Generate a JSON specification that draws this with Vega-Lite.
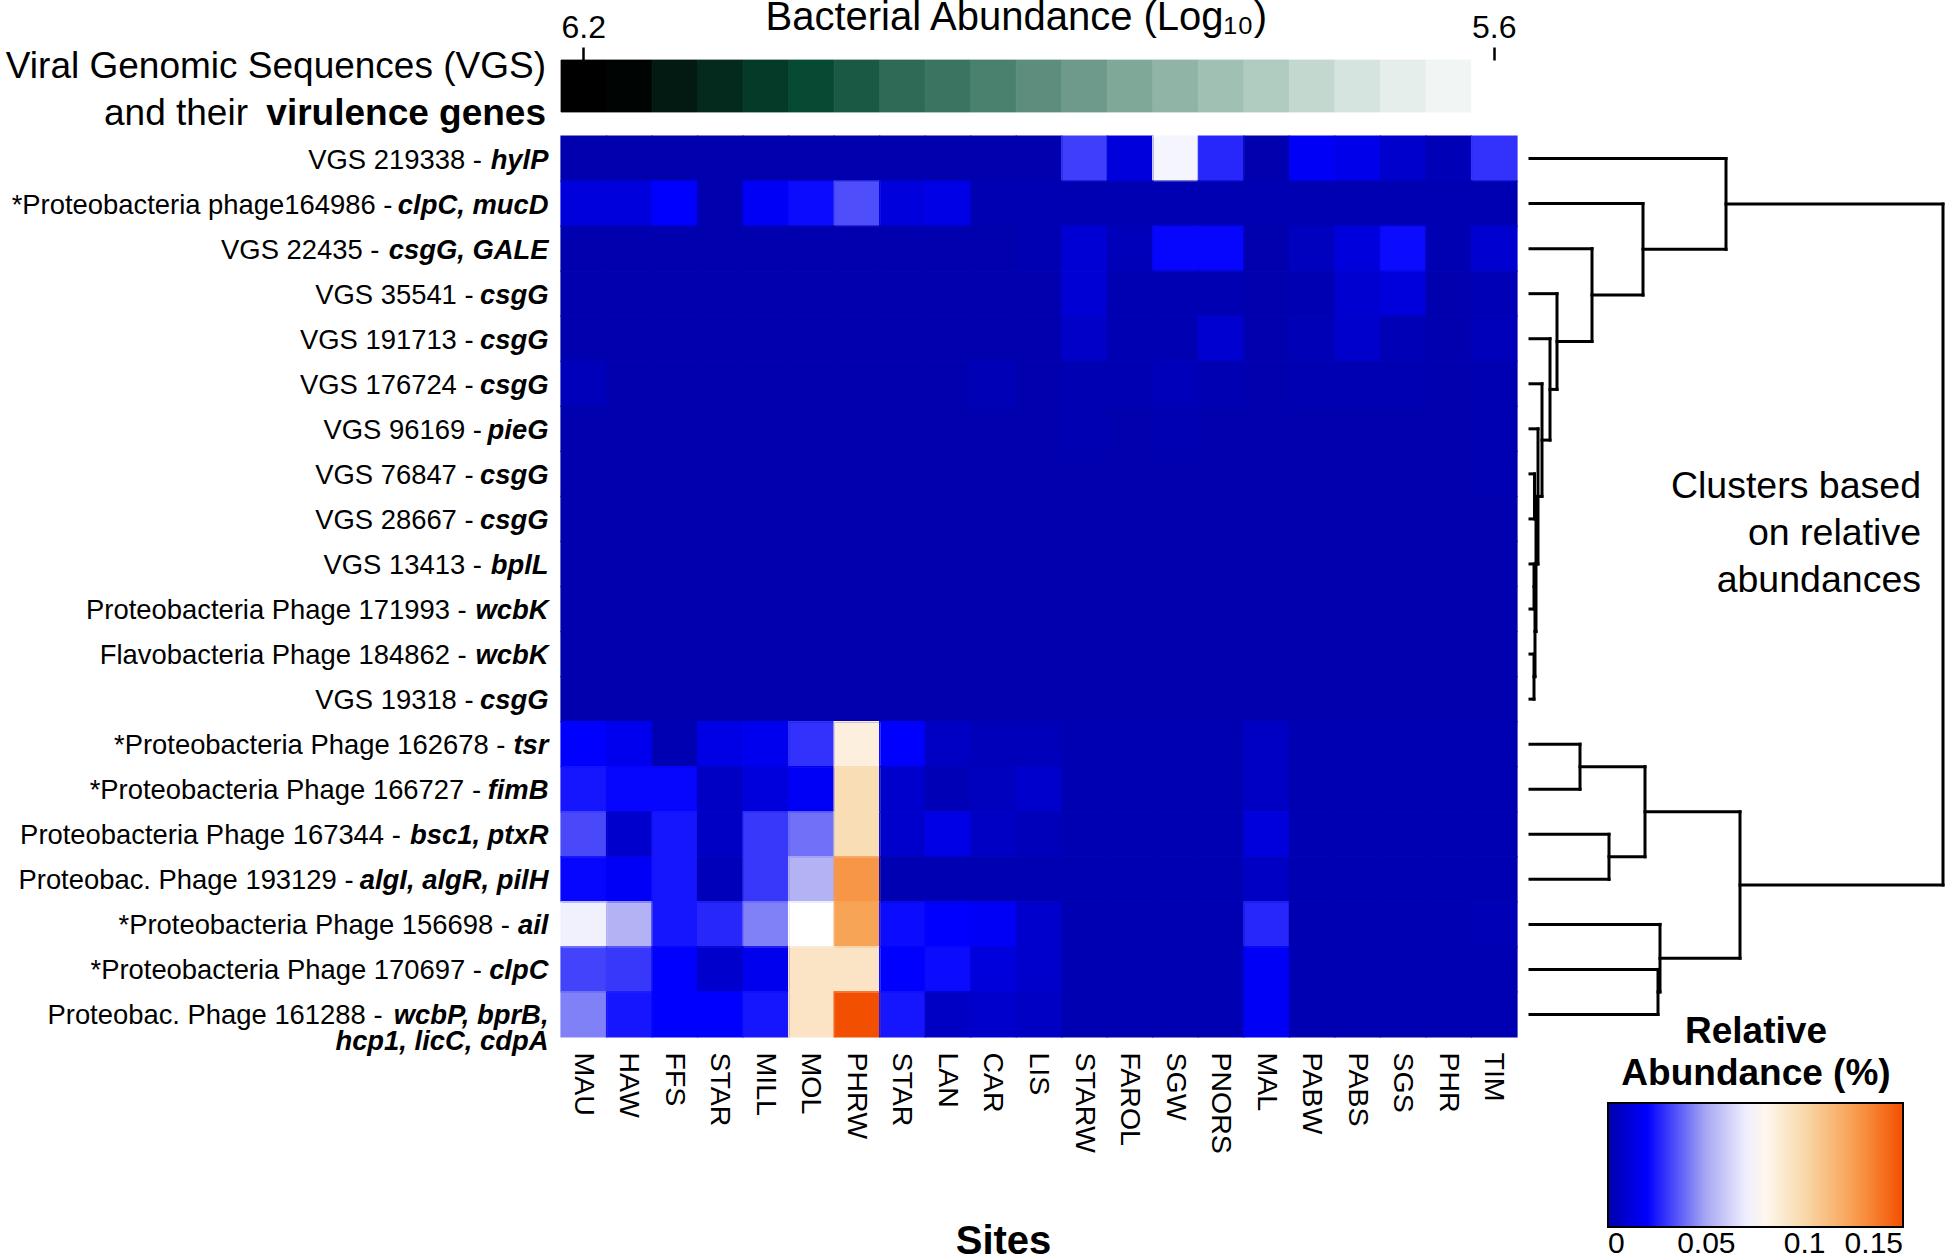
{
  "$schema": "https://vega.github.io/schema/vega-lite/v6.json",
  "width": 956,
  "height": 901,
  "autosize": {"type": "none"},
  "padding": {"left": 561, "top": 136, "right": 429, "bottom": 221},
  "background": "white",
  "config": {
    "view": {"stroke": null},
    "font": "Liberation Sans",
    "text": {"font": "Liberation Sans", "color": "black"},
    "axis": {"labelFont": "Liberation Sans", "titleFont": "Liberation Sans"},
    "legend": {"labelFont": "Liberation Sans", "titleFont": "Liberation Sans"}
  },
  "datasets": {
    "heat": [
      {"row": 1, "MAU": 0.001, "HAW": 0.001, "FFS": 0.001, "STAR": 0.001, "MILL": 0.001, "MOL": 0.001, "PHRW": 0.001, "STAR2": 0.001, "LAN": 0.001, "CAR": 0.001, "LIS": 0.001, "STARW": 0.031, "FAROL": 0.012, "SGW": 0.072, "PNORS": 0.027, "MAL": 0.001, "PABW": 0.018, "PABS": 0.015, "SGS": 0.008, "PHR": 0.003, "TIM": 0.029},
      {"row": 2, "MAU": 0.012, "HAW": 0.012, "FFS": 0.020, "STAR": 0.001, "MILL": 0.018, "MOL": 0.022, "PHRW": 0.034, "STAR2": 0.012, "LAN": 0.014, "CAR": 0.002, "LIS": 0.002, "STARW": 0.002, "FAROL": 0.002, "SGW": 0.002, "PNORS": 0.002, "MAL": 0.002, "PABW": 0.002, "PABS": 0.002, "SGS": 0.002, "PHR": 0.002, "TIM": 0.002},
      {"row": 3, "MAU": 0.001, "HAW": 0.001, "FFS": 0.001, "STAR": 0.001, "MILL": 0.001, "MOL": 0.001, "PHRW": 0.001, "STAR2": 0.001, "LAN": 0.001, "CAR": 0.001, "LIS": 0.002, "STARW": 0.010, "FAROL": 0.004, "SGW": 0.021, "PNORS": 0.021, "MAL": 0.001, "PABW": 0.005, "PABS": 0.012, "SGS": 0.022, "PHR": 0.002, "TIM": 0.009},
      {"row": 4, "MAU": 0.001, "HAW": 0.001, "FFS": 0.001, "STAR": 0.001, "MILL": 0.001, "MOL": 0.001, "PHRW": 0.001, "STAR2": 0.001, "LAN": 0.001, "CAR": 0.001, "LIS": 0.001, "STARW": 0.010, "FAROL": 0.002, "SGW": 0.002, "PNORS": 0.002, "MAL": 0.001, "PABW": 0.002, "PABS": 0.009, "SGS": 0.012, "PHR": 0.001, "TIM": 0.003},
      {"row": 5, "MAU": 0.001, "HAW": 0.001, "FFS": 0.001, "STAR": 0.001, "MILL": 0.001, "MOL": 0.001, "PHRW": 0.001, "STAR2": 0.001, "LAN": 0.001, "CAR": 0.001, "LIS": 0.001, "STARW": 0.007, "FAROL": 0.002, "SGW": 0.002, "PNORS": 0.009, "MAL": 0.001, "PABW": 0.003, "PABS": 0.008, "SGS": 0.003, "PHR": 0.001, "TIM": 0.004},
      {"row": 6, "MAU": 0.004, "HAW": 0.001, "FFS": 0.001, "STAR": 0.001, "MILL": 0.001, "MOL": 0.001, "PHRW": 0.001, "STAR2": 0.001, "LAN": 0.001, "CAR": 0.003, "LIS": 0.001, "STARW": 0.002, "FAROL": 0.002, "SGW": 0.004, "PNORS": 0.002, "MAL": 0.001, "PABW": 0.002, "PABS": 0.002, "SGS": 0.002, "PHR": 0.001, "TIM": 0.002},
      {"row": 7, "MAU": 0.001, "HAW": 0.001, "FFS": 0.001, "STAR": 0.001, "MILL": 0.001, "MOL": 0.001, "PHRW": 0.001, "STAR2": 0.001, "LAN": 0.001, "CAR": 0.001, "LIS": 0.001, "STARW": 0.002, "FAROL": 0.001, "SGW": 0.002, "PNORS": 0.001, "MAL": 0.001, "PABW": 0.001, "PABS": 0.001, "SGS": 0.001, "PHR": 0.001, "TIM": 0.002},
      {"row": 8, "MAU": 0.001, "HAW": 0.001, "FFS": 0.001, "STAR": 0.001, "MILL": 0.001, "MOL": 0.001, "PHRW": 0.001, "STAR2": 0.001, "LAN": 0.001, "CAR": 0.001, "LIS": 0.001, "STARW": 0.001, "FAROL": 0.001, "SGW": 0.001, "PNORS": 0.001, "MAL": 0.001, "PABW": 0.001, "PABS": 0.001, "SGS": 0.001, "PHR": 0.001, "TIM": 0.002},
      {"row": 9, "MAU": 0.001, "HAW": 0.001, "FFS": 0.001, "STAR": 0.001, "MILL": 0.001, "MOL": 0.001, "PHRW": 0.001, "STAR2": 0.001, "LAN": 0.001, "CAR": 0.001, "LIS": 0.001, "STARW": 0.001, "FAROL": 0.001, "SGW": 0.001, "PNORS": 0.001, "MAL": 0.001, "PABW": 0.001, "PABS": 0.001, "SGS": 0.001, "PHR": 0.001, "TIM": 0.001},
      {"row": 10, "MAU": 0.001, "HAW": 0.001, "FFS": 0.001, "STAR": 0.001, "MILL": 0.001, "MOL": 0.001, "PHRW": 0.001, "STAR2": 0.001, "LAN": 0.001, "CAR": 0.001, "LIS": 0.001, "STARW": 0.001, "FAROL": 0.001, "SGW": 0.001, "PNORS": 0.001, "MAL": 0.001, "PABW": 0.001, "PABS": 0.001, "SGS": 0.001, "PHR": 0.001, "TIM": 0.001},
      {"row": 11, "MAU": 0.001, "HAW": 0.001, "FFS": 0.001, "STAR": 0.001, "MILL": 0.001, "MOL": 0.001, "PHRW": 0.001, "STAR2": 0.001, "LAN": 0.001, "CAR": 0.001, "LIS": 0.001, "STARW": 0.001, "FAROL": 0.001, "SGW": 0.001, "PNORS": 0.001, "MAL": 0.001, "PABW": 0.001, "PABS": 0.001, "SGS": 0.001, "PHR": 0.001, "TIM": 0.001},
      {"row": 12, "MAU": 0.001, "HAW": 0.001, "FFS": 0.001, "STAR": 0.001, "MILL": 0.001, "MOL": 0.001, "PHRW": 0.001, "STAR2": 0.001, "LAN": 0.001, "CAR": 0.001, "LIS": 0.001, "STARW": 0.001, "FAROL": 0.001, "SGW": 0.001, "PNORS": 0.001, "MAL": 0.001, "PABW": 0.001, "PABS": 0.001, "SGS": 0.001, "PHR": 0.001, "TIM": 0.001},
      {"row": 13, "MAU": 0.001, "HAW": 0.001, "FFS": 0.001, "STAR": 0.001, "MILL": 0.001, "MOL": 0.001, "PHRW": 0.001, "STAR2": 0.001, "LAN": 0.001, "CAR": 0.001, "LIS": 0.001, "STARW": 0.001, "FAROL": 0.001, "SGW": 0.001, "PNORS": 0.001, "MAL": 0.001, "PABW": 0.001, "PABS": 0.001, "SGS": 0.001, "PHR": 0.001, "TIM": 0.001},
      {"row": 14, "MAU": 0.020, "HAW": 0.016, "FFS": 0.002, "STAR": 0.014, "MILL": 0.016, "MOL": 0.029, "PHRW": 0.085, "STAR2": 0.020, "LAN": 0.006, "CAR": 0.004, "LIS": 0.004, "STARW": 0.002, "FAROL": 0.002, "SGW": 0.002, "PNORS": 0.002, "MAL": 0.006, "PABW": 0.002, "PABS": 0.002, "SGS": 0.002, "PHR": 0.002, "TIM": 0.002},
      {"row": 15, "MAU": 0.024, "HAW": 0.021, "FFS": 0.021, "STAR": 0.006, "MILL": 0.012, "MOL": 0.018, "PHRW": 0.097, "STAR2": 0.008, "LAN": 0.003, "CAR": 0.005, "LIS": 0.008, "STARW": 0.002, "FAROL": 0.002, "SGW": 0.002, "PNORS": 0.002, "MAL": 0.006, "PABW": 0.002, "PABS": 0.002, "SGS": 0.002, "PHR": 0.002, "TIM": 0.002},
      {"row": 16, "MAU": 0.033, "HAW": 0.008, "FFS": 0.024, "STAR": 0.006, "MILL": 0.030, "MOL": 0.040, "PHRW": 0.097, "STAR2": 0.008, "LAN": 0.014, "CAR": 0.006, "LIS": 0.004, "STARW": 0.002, "FAROL": 0.002, "SGW": 0.002, "PNORS": 0.002, "MAL": 0.012, "PABW": 0.002, "PABS": 0.002, "SGS": 0.002, "PHR": 0.002, "TIM": 0.002},
      {"row": 17, "MAU": 0.021, "HAW": 0.018, "FFS": 0.024, "STAR": 0.004, "MILL": 0.030, "MOL": 0.053, "PHRW": 0.128, "STAR2": 0.002, "LAN": 0.002, "CAR": 0.002, "LIS": 0.002, "STARW": 0.002, "FAROL": 0.002, "SGW": 0.002, "PNORS": 0.002, "MAL": 0.006, "PABW": 0.002, "PABS": 0.002, "SGS": 0.002, "PHR": 0.002, "TIM": 0.002},
      {"row": 18, "MAU": 0.071, "HAW": 0.053, "FFS": 0.024, "STAR": 0.027, "MILL": 0.043, "MOL": 0.075, "PHRW": 0.123, "STAR2": 0.022, "LAN": 0.020, "CAR": 0.018, "LIS": 0.008, "STARW": 0.002, "FAROL": 0.002, "SGW": 0.002, "PNORS": 0.002, "MAL": 0.027, "PABW": 0.002, "PABS": 0.002, "SGS": 0.002, "PHR": 0.002, "TIM": 0.003},
      {"row": 19, "MAU": 0.032, "HAW": 0.030, "FFS": 0.020, "STAR": 0.008, "MILL": 0.016, "MOL": 0.092, "PHRW": 0.092, "STAR2": 0.020, "LAN": 0.022, "CAR": 0.012, "LIS": 0.008, "STARW": 0.002, "FAROL": 0.002, "SGW": 0.002, "PNORS": 0.002, "MAL": 0.018, "PABW": 0.002, "PABS": 0.002, "SGS": 0.002, "PHR": 0.002, "TIM": 0.002},
      {"row": 20, "MAU": 0.043, "HAW": 0.024, "FFS": 0.020, "STAR": 0.020, "MILL": 0.024, "MOL": 0.092, "PHRW": 0.150, "STAR2": 0.024, "LAN": 0.006, "CAR": 0.008, "LIS": 0.006, "STARW": 0.002, "FAROL": 0.002, "SGW": 0.002, "PNORS": 0.002, "MAL": 0.018, "PABW": 0.002, "PABS": 0.002, "SGS": 0.002, "PHR": 0.002, "TIM": 0.002}
    ],
    "labels": [
      {"row": 1, "prefix": "VGS 219338 -", "gene": "hylP"},
      {"row": 2, "prefix": "*Proteobacteria phage164986 -", "gene": "clpC, mucD"},
      {"row": 3, "prefix": "VGS 22435 -", "gene": "csgG, GALE"},
      {"row": 4, "prefix": "VGS 35541 -", "gene": "csgG"},
      {"row": 5, "prefix": "VGS 191713 -", "gene": "csgG"},
      {"row": 6, "prefix": "VGS 176724 -", "gene": "csgG"},
      {"row": 7, "prefix": "VGS 96169 -", "gene": "pieG"},
      {"row": 8, "prefix": "VGS 76847 -", "gene": "csgG"},
      {"row": 9, "prefix": "VGS 28667 -", "gene": "csgG"},
      {"row": 10, "prefix": "VGS 13413 -", "gene": "bplL"},
      {"row": 11, "prefix": "Proteobacteria Phage 171993 -", "gene": "wcbK"},
      {"row": 12, "prefix": "Flavobacteria Phage 184862 -", "gene": "wcbK"},
      {"row": 13, "prefix": "VGS 19318 -", "gene": "csgG"},
      {"row": 14, "prefix": "*Proteobacteria Phage 162678 -", "gene": "tsr"},
      {"row": 15, "prefix": "*Proteobacteria Phage 166727 -", "gene": "fimB"},
      {"row": 16, "prefix": "Proteobacteria Phage 167344 -", "gene": "bsc1, ptxR"},
      {"row": 17, "prefix": "Proteobac. Phage 193129 -", "gene": "algI, algR, pilH"},
      {"row": 18, "prefix": "*Proteobacteria Phage 156698 -", "gene": "ail"},
      {"row": 19, "prefix": "*Proteobacteria Phage 170697 -", "gene": "clpC"},
      {"row": 20, "prefix": "Proteobac. Phage 161288 -", "gene": "wcbP, bprB,", "gene2": "hcp1, licC, cdpA"}
    ],
    "bact": [
      {"site": "MAU", "track": "bact", "bact": 6.2},
      {"site": "HAW", "track": "bact", "bact": 6.195},
      {"site": "FFS", "track": "bact", "bact": 6.165},
      {"site": "STAR", "track": "bact", "bact": 6.143},
      {"site": "MILL", "track": "bact", "bact": 6.122},
      {"site": "MOL", "track": "bact", "bact": 6.1},
      {"site": "PHRW", "track": "bact", "bact": 6.07},
      {"site": "STAR2", "track": "bact", "bact": 6.041},
      {"site": "LAN", "track": "bact", "bact": 6.022},
      {"site": "CAR", "track": "bact", "bact": 6.0},
      {"site": "LIS", "track": "bact", "bact": 5.963},
      {"site": "STARW", "track": "bact", "bact": 5.932},
      {"site": "FAROL", "track": "bact", "bact": 5.895},
      {"site": "SGW", "track": "bact", "bact": 5.863},
      {"site": "PNORS", "track": "bact", "bact": 5.832},
      {"site": "MAL", "track": "bact", "bact": 5.8},
      {"site": "PABW", "track": "bact", "bact": 5.753},
      {"site": "PABS", "track": "bact", "bact": 5.706},
      {"site": "SGS", "track": "bact", "bact": 5.667},
      {"site": "PHR", "track": "bact", "bact": 5.636},
      {"site": "TIM", "track": "bact", "bact": 5.6}
    ],
    "dendro": [
      {"x1": 0, "x2": 128, "y1": 19, "y2": 19}, {"x1": 0, "x2": 128, "y1": 20, "y2": 20}, {"x1": 128, "x2": 128, "y1": 19, "y2": 20},
      {"x1": 0, "x2": 130, "y1": 18, "y2": 18}, {"x1": 128, "x2": 130, "y1": 19.5, "y2": 19.5}, {"x1": 130, "x2": 130, "y1": 18, "y2": 19.5},
      {"x1": 0, "x2": 50, "y1": 14, "y2": 14}, {"x1": 0, "x2": 50, "y1": 15, "y2": 15}, {"x1": 50, "x2": 50, "y1": 14, "y2": 15},
      {"x1": 0, "x2": 79, "y1": 16, "y2": 16}, {"x1": 0, "x2": 79, "y1": 17, "y2": 17}, {"x1": 79, "x2": 79, "y1": 16, "y2": 17},
      {"x1": 50, "x2": 115, "y1": 14.5, "y2": 14.5}, {"x1": 79, "x2": 115, "y1": 16.5, "y2": 16.5}, {"x1": 115, "x2": 115, "y1": 14.5, "y2": 16.5},
      {"x1": 115, "x2": 210, "y1": 15.5, "y2": 15.5}, {"x1": 130, "x2": 210, "y1": 18.75, "y2": 18.75}, {"x1": 210, "x2": 210, "y1": 15.5, "y2": 18.75},
      {"x1": 0, "x2": 4, "y1": 12, "y2": 12}, {"x1": 0, "x2": 4, "y1": 13, "y2": 13}, {"x1": 4, "x2": 4, "y1": 12, "y2": 13},
      {"x1": 0, "x2": 4, "y1": 10, "y2": 10}, {"x1": 0, "x2": 4, "y1": 11, "y2": 11}, {"x1": 4, "x2": 4, "y1": 10, "y2": 11},
      {"x1": 4, "x2": 5, "y1": 10.5, "y2": 10.5}, {"x1": 4, "x2": 5, "y1": 12.5, "y2": 12.5}, {"x1": 5, "x2": 5, "y1": 10.5, "y2": 12.5},
      {"x1": 0, "x2": 4.5, "y1": 8, "y2": 8}, {"x1": 0, "x2": 4.5, "y1": 9, "y2": 9}, {"x1": 4.5, "x2": 4.5, "y1": 8, "y2": 9},
      {"x1": 4.5, "x2": 6, "y1": 8.5, "y2": 8.5}, {"x1": 5, "x2": 6, "y1": 11.5, "y2": 11.5}, {"x1": 6, "x2": 6, "y1": 8.5, "y2": 11.5},
      {"x1": 0, "x2": 8, "y1": 7, "y2": 7}, {"x1": 6, "x2": 8, "y1": 10, "y2": 10}, {"x1": 8, "x2": 8, "y1": 7, "y2": 10},
      {"x1": 0, "x2": 12, "y1": 6, "y2": 6}, {"x1": 8, "x2": 12, "y1": 8.5, "y2": 8.5}, {"x1": 12, "x2": 12, "y1": 6, "y2": 8.5},
      {"x1": 0, "x2": 20, "y1": 5, "y2": 5}, {"x1": 12, "x2": 20, "y1": 7.25, "y2": 7.25}, {"x1": 20, "x2": 20, "y1": 5, "y2": 7.25},
      {"x1": 0, "x2": 27, "y1": 4, "y2": 4}, {"x1": 20, "x2": 27, "y1": 6.125, "y2": 6.125}, {"x1": 27, "x2": 27, "y1": 4, "y2": 6.125},
      {"x1": 0, "x2": 62, "y1": 3, "y2": 3}, {"x1": 27, "x2": 62, "y1": 5.0625, "y2": 5.0625}, {"x1": 62, "x2": 62, "y1": 3, "y2": 5.0625},
      {"x1": 0, "x2": 113, "y1": 2, "y2": 2}, {"x1": 62, "x2": 113, "y1": 4.031, "y2": 4.031}, {"x1": 113, "x2": 113, "y1": 2, "y2": 4.031},
      {"x1": 0, "x2": 196, "y1": 1, "y2": 1}, {"x1": 113, "x2": 196, "y1": 3.016, "y2": 3.016}, {"x1": 196, "x2": 196, "y1": 1, "y2": 3.016},
      {"x1": 196, "x2": 413, "y1": 2.008, "y2": 2.008}, {"x1": 210, "x2": 413, "y1": 17.125, "y2": 17.125}, {"x1": 413, "x2": 413, "y1": 2.008, "y2": 17.125}
    ]
  },
  "layer": [
    {
      "layer": [
        {
          "data": {"name": "heat"},
          "transform": [{"fold": ["MAU","HAW","FFS","STAR","MILL","MOL","PHRW","STAR2","LAN","CAR","LIS","STARW","FAROL","SGW","PNORS","MAL","PABW","PABS","SGS","PHR","TIM"], "as": ["site", "value"]}],
          "mark": {"type": "rect"},
          "encoding": {
            "x": {
              "field": "site", "type": "nominal",
              "scale": {"type": "band", "domain": ["MAU","HAW","FFS","STAR","MILL","MOL","PHRW","STAR2","LAN","CAR","LIS","STARW","FAROL","SGW","PNORS","MAL","PABW","PABS","SGS","PHR","TIM"], "paddingInner": 0, "paddingOuter": 0},
              "axis": {
                "orient": "bottom", "labelAngle": 90, "labelAlign": "left", "labelBaseline": "middle",
                "labelFontSize": 28.5, "labelColor": "black", "labelPadding": 15, "ticks": false, "tickSize": 0,
                "domain": false, "grid": false, "labelExpr": "replace(datum.label, '2', '')",
                "title": "Sites", "titleFontSize": 40, "titleFontWeight": "bold", "titleColor": "black",
                "titleX": 442, "titleY": 204, "titleBaseline": "middle", "titleAlign": "center"
              }
            },
            "y": {"field": "row", "type": "ordinal", "scale": {"type": "band", "paddingInner": 0, "paddingOuter": 0}, "axis": null},
            "color": {
              "field": "value", "type": "quantitative",
              "scale": {"domain": [0, 0.02, 0.05, 0.075, 0.1, 0.125, 0.15], "range": ["#0000aa", "#0000ff", "#a8a8f4", "#ffffff", "#f8d8aa", "#f8a050", "#f25000"], "interpolate": "rgb"},
              "legend": {
                "type": "gradient",
                "orient": "none", "legendX": 1047, "legendY": 878, "direction": "horizontal",
                "title": ["Relative", "Abundance (%)"], "titleFontSize": 37, "titleFontWeight": "bold", "titleLimit": 600,
                "titleAlign": "center", "titleAnchor": "middle", "titleLineHeight": 42, "titlePadding": 10, "titleColor": "black",
                "gradientLength": 295, "gradientThickness": 124, "gradientStrokeColor": "black", "gradientStrokeWidth": 2,
                "labelFontSize": 30, "labelColor": "black", "labelOffset": 2, "values": [0, 0.05, 0.1, 0.15],
                "format": ".2~f", "labelAlign": "center", "labelOverlap": false, "padding": 0
              }
            }
          }
        },
        {
          "data": {"name": "heat"},
          "transform": [{"fold": ["MAU","HAW","FFS","STAR","MILL","MOL","PHRW","STAR2","LAN","CAR","LIS","STARW","FAROL","SGW","PNORS","MAL","PABW","PABS","SGS","PHR","TIM"], "as": ["site", "edge"]}],
          "mark": {"type": "rect", "fillOpacity": 0, "strokeWidth": 1.2},
          "encoding": {
            "x": {"field": "site", "type": "nominal"},
            "y": {"field": "row", "type": "ordinal"},
            "stroke": {
              "field": "edge", "type": "quantitative",
              "scale": {"domain": [-0.0001, 0.02, 0.05, 0.075, 0.1, 0.125, 0.1501], "range": ["#0000aa", "#0000ff", "#a8a8f4", "#ffffff", "#f8d8aa", "#f8a050", "#f25000"], "interpolate": "rgb"},
              "legend": null
            }
          }
        },
        {
          "data": {"name": "labels"},
          "mark": {
            "type": "text", "align": "right", "baseline": "middle", "fontSize": 27.4, "dy": 2,
            "dx": {"expr": "-20 - 27.4*(0.278*length(replace(datum.gene, regexp('[^il,. I]','g'), '')) + 0.36*length(replace(datum.gene, regexp('[^rtf]','g'), '')) + 0.83*length(replace(datum.gene, regexp('[^mw]','g'), '')) + 0.72*length(replace(datum.gene, regexp('[^A-HJ-Z]','g'), '')) + 0.58*length(replace(datum.gene, regexp('[il,. IrtfmwA-HJ-Z]','g'), '')))"}
          },
          "encoding": {
            "x": {"datum": "MAU", "type": "nominal", "bandPosition": 0},
            "y": {"field": "row", "type": "ordinal"},
            "text": {"field": "prefix"}
          }
        },
        {
          "data": {"name": "labels"},
          "mark": {"type": "text", "align": "right", "baseline": "middle", "fontSize": 27.4, "fontWeight": "bold", "fontStyle": "italic", "dx": -12.5, "dy": 2},
          "encoding": {
            "x": {"datum": "MAU", "type": "nominal", "bandPosition": 0},
            "y": {"field": "row", "type": "ordinal"},
            "text": {"field": "gene"}
          }
        },
        {
          "data": {"name": "labels"},
          "transform": [{"filter": "datum.gene2"}],
          "mark": {"type": "text", "align": "right", "baseline": "middle", "fontSize": 27.4, "fontWeight": "bold", "fontStyle": "italic", "dx": -12.5, "dy": 28},
          "encoding": {
            "x": {"datum": "MAU", "type": "nominal", "bandPosition": 0},
            "y": {"field": "row", "type": "ordinal"},
            "text": {"field": "gene2"}
          }
        }
      ]
    },
    {
      "layer": [
        {
          "data": {"name": "bact"},
          "mark": {"type": "rect", "strokeWidth": 0.8},
          "encoding": {
            "x": {
              "field": "site", "type": "nominal",
              "scale": {"type": "band", "domain": ["MAU","HAW","FFS","STAR","MILL","MOL","PHRW","STAR2","LAN","CAR","LIS","STARW","FAROL","SGW","PNORS","MAL","PABW","PABS","SGS","PHR","TIM"], "paddingInner": 0, "paddingOuter": 0},
              "axis": {
                "orient": "top", "values": ["MAU", "TIM"], "labelExpr": "datum.value == 'MAU' ? '6.2' : '5.6'",
                "offset": 76, "domain": false, "grid": false, "ticks": true, "tickSize": 13, "tickWidth": 2.5,
                "tickColor": "black", "labelFontSize": 32, "labelPadding": 3, "labelColor": "black", "labelAngle": 0, "title": null
              }
            },
            "y": {"field": "track", "type": "nominal", "scale": {"type": "band", "domain": ["bact"], "range": [-76, -24], "paddingInner": 0, "paddingOuter": 0}, "axis": null},
            "color": {
              "field": "bact", "type": "quantitative",
              "scale": {"domain": [5.6, 5.8, 6.0, 6.1, 6.2], "range": ["#ffffff", "#b0ccc0", "#4a806e", "#064a33", "#000000"], "interpolate": "rgb"},
              "legend": null
            },
            "stroke": {
              "field": "bact", "type": "quantitative",
              "scale": {"domain": [5.5999, 5.8, 6.0, 6.1, 6.2001], "range": ["#ffffff", "#b0ccc0", "#4a806e", "#064a33", "#000000"], "interpolate": "rgb"},
              "legend": null
            }
          }
        },
        {
          "data": {"values": [{}]},
          "mark": {"type": "text", "text": "Bacterial Abundance (Log₁₀)", "align": "center", "baseline": "middle", "fontSize": 40, "dy": -42},
          "encoding": {
            "x": {"datum": "LIS", "type": "nominal", "bandPosition": 0},
            "y": {"datum": "bact", "type": "nominal", "bandPosition": 0}
          }
        },
        {
          "data": {"values": [{}]},
          "mark": {"type": "text", "text": "Viral Genomic Sequences (VGS)", "align": "right", "baseline": "middle", "fontSize": 37, "dx": -15, "dy": 7},
          "encoding": {
            "x": {"datum": "MAU", "type": "nominal", "bandPosition": 0},
            "y": {"datum": "bact", "type": "nominal", "bandPosition": 0}
          }
        },
        {
          "data": {"values": [{}]},
          "mark": {"type": "text", "text": "and their", "align": "right", "baseline": "middle", "fontSize": 37, "dx": -313, "dy": 54},
          "encoding": {
            "x": {"datum": "MAU", "type": "nominal", "bandPosition": 0},
            "y": {"datum": "bact", "type": "nominal", "bandPosition": 0}
          }
        },
        {
          "data": {"values": [{}]},
          "mark": {"type": "text", "text": "virulence genes", "align": "right", "baseline": "middle", "fontSize": 37, "fontWeight": "bold", "dx": -15, "dy": 54},
          "encoding": {
            "x": {"datum": "MAU", "type": "nominal", "bandPosition": 0},
            "y": {"datum": "bact", "type": "nominal", "bandPosition": 0}
          }
        }
      ]
    },
    {
      "layer": [
        {
          "data": {"name": "dendro"},
          "mark": {"type": "rule", "color": "black", "strokeWidth": 3, "strokeCap": "square"},
          "encoding": {
            "x": {"field": "x1", "type": "quantitative", "scale": {"domain": [0, 413], "range": [969, 1382], "zero": false, "nice": false}, "axis": null},
            "x2": {"field": "x2"},
            "y": {"field": "y1", "type": "quantitative", "scale": {"domain": [0.5, 20.5], "range": [0, 901], "zero": false, "nice": false}, "axis": null},
            "y2": {"field": "y2"}
          }
        },
        {
          "data": {"values": [{}]},
          "mark": {"type": "text", "text": ["Clusters based", "on relative", "abundances"], "align": "right", "baseline": "middle", "fontSize": 37.5, "lineHeight": 47, "dx": -22, "dy": -57},
          "encoding": {
            "x": {"datum": 413, "type": "quantitative"},
            "y": {"datum": 9.566, "type": "quantitative"}
          }
        }
      ]
    }
  ],
  "resolve": {
    "scale": {"x": "independent", "y": "independent", "color": "independent", "stroke": "independent"},
    "axis": {"x": "independent", "y": "independent"},
    "legend": {"color": "independent", "stroke": "independent"}
  }
}
